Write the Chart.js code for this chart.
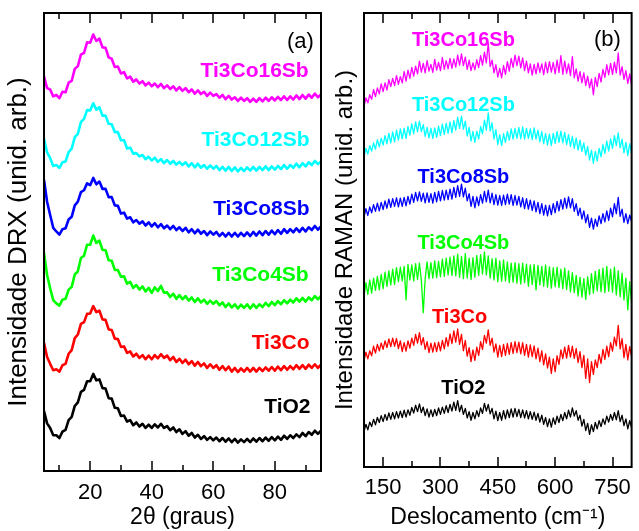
<!DOCTYPE html>
<html>
<head>
<meta charset="utf-8">
<script src="https://cdn.jsdelivr.net/npm/chart.js@4.4.1/dist/chart.umd.min.js"></script>
<style>
  html, body { margin: 0; padding: 0; background: #fff; }
  #wrap { position: relative; width: 639px; height: 531px; overflow: hidden; }
  #xrd { position: absolute; left: 0; top: 0; }
  #raman { position: absolute; left: 322px; top: 0; }
</style>
</head>
<body>
<div id="wrap">
  <canvas id="xrd" width="330" height="531"></canvas>
  <canvas id="raman" width="317" height="531"></canvas>
</div>
<script>
// samples, bottom to top
const sampleNames = ['TiO2', 'Ti3Co', 'Ti3Co4Sb', 'Ti3Co8Sb', 'Ti3Co12Sb', 'Ti3Co16Sb'];
const sampleColors = ['#000000', '#ff0000', '#00ff00', '#0000ff', '#00ffff', '#ff00ff'];

// (a) DRX, 2theta in degrees
const xrdAngle = [
  5, 6, 7, 8, 9, 10, 11, 12, 13, 14,
  15, 16, 17, 18, 19, 20, 21, 22, 23, 24,
  25, 26, 27, 28, 29, 30, 31, 32, 33, 34,
  35, 36, 37, 38, 39, 40, 41, 42, 43, 44,
  45, 46, 47, 48, 49, 50, 51, 52, 53, 54,
  55, 56, 57, 58, 59, 60, 61, 62, 63, 64,
  65, 66, 67, 68, 69, 70, 71, 72, 73, 74,
  75, 76, 77, 78, 79, 80, 81, 82, 83, 84,
  85, 86, 87, 88, 89, 90, 91, 92, 93, 94,
  95
];
const xrdTiO2 = [
  13.1, 10.4, 9.4, 7.8, 7.8, 7.2, 8.6, 9.0, 11.1, 11.8,
  14.2, 15.0, 17.3, 17.7, 19.6, 19.6, 21.2, 19.8, 20.0, 18.1,
  18.0, 15.9, 15.8, 13.8, 13.7, 12.0, 12.1, 10.8, 11.1, 10.0,
  10.6, 9.7, 10.3, 9.4, 10.1, 9.4, 10.2, 9.5, 10.3, 9.4,
  9.8, 8.9, 9.5, 8.5, 9.1, 8.1, 8.7, 7.7, 8.3, 7.3,
  7.9, 7.0, 7.6, 6.8, 7.4, 6.7, 7.3, 6.5, 7.2, 6.4,
  7.1, 6.3, 7.0, 6.2, 6.9, 6.3, 7.0, 6.3, 7.1, 6.4,
  7.2, 6.5, 7.3, 6.6, 7.4, 6.7, 7.5, 6.8, 7.7, 7.0,
  7.8, 7.2, 8.0, 7.4, 8.3, 7.6, 8.5, 7.9, 8.8, 8.1,
  8.8
];
const xrdTi3Co = [
  28.0, 24.9, 23.4, 22.0, 22.2, 21.7, 23.1, 23.4, 25.6, 26.4,
  29.0, 29.8, 32.1, 32.5, 34.3, 34.4, 36.0, 34.7, 35.0, 33.1,
  33.0, 30.9, 30.8, 28.9, 28.8, 27.1, 27.2, 25.8, 26.1, 25.0,
  25.6, 24.7, 25.3, 24.4, 25.2, 24.4, 25.3, 24.6, 25.5, 24.7,
  25.2, 24.2, 24.9, 23.8, 24.5, 23.6, 24.3, 23.3, 24.0, 23.0,
  23.8, 22.9, 23.5, 22.5, 23.3, 22.5, 23.1, 22.1, 22.9, 22.0,
  22.8, 21.7, 22.5, 21.6, 22.4, 21.7, 22.5, 21.7, 22.5, 21.7,
  22.5, 21.8, 22.6, 21.9, 22.7, 21.9, 22.8, 22.0, 22.9, 22.1,
  22.9, 22.2, 23.1, 22.3, 23.1, 22.3, 23.2, 22.5, 23.3, 22.5,
  23.2
];
const xrdTi3Co4Sb = [
  47.6, 42.8, 39.9, 37.3, 36.6, 36.1, 37.4, 37.6, 39.6, 40.2,
  42.9, 43.6, 46.5, 47.0, 49.4, 49.4, 51.4, 49.8, 50.3, 48.3,
  48.2, 46.0, 45.9, 43.9, 43.9, 42.4, 42.5, 40.9, 41.3, 40.0,
  40.6, 39.6, 40.3, 39.2, 40.0, 38.9, 40.1, 39.3, 40.4, 38.9,
  39.0, 38.0, 38.7, 37.6, 38.4, 37.5, 38.2, 37.2, 37.9, 36.9,
  37.7, 36.8, 37.4, 36.5, 37.2, 36.5, 37.1, 36.2, 36.8, 35.8,
  36.6, 35.7, 36.4, 35.5, 36.3, 35.6, 36.4, 35.5, 36.4, 35.6,
  36.4, 35.8, 36.7, 36.0, 36.9, 36.2, 37.1, 36.4, 37.3, 36.6,
  37.4, 36.8, 37.7, 37.0, 37.8, 37.0, 37.9, 37.3, 38.2, 37.5,
  38.2
];
const xrdTi3Co8Sb = [
  63.6, 58.8, 55.9, 53.1, 52.3, 51.6, 52.8, 53.0, 54.9, 55.5,
  58.0, 58.8, 60.9, 61.3, 62.8, 62.4, 64.0, 62.6, 63.2, 61.6,
  61.6, 59.8, 59.8, 58.0, 57.9, 56.2, 56.4, 55.1, 55.4, 54.3,
  54.8, 54.0, 54.5, 53.6, 54.3, 53.4, 54.1, 53.2, 53.9, 53.0,
  53.6, 52.8, 53.5, 52.6, 53.2, 52.4, 53.1, 52.1, 52.8, 51.9,
  52.7, 51.8, 52.4, 51.5, 52.3, 51.6, 52.2, 51.3, 52.0, 51.2,
  52.0, 51.2, 52.0, 51.2, 52.0, 51.3, 52.1, 51.3, 52.2, 51.4,
  52.3, 51.5, 52.4, 51.6, 52.5, 51.7, 52.6, 51.8, 52.8, 52.0,
  52.8, 52.1, 53.0, 52.2, 53.1, 52.3, 53.2, 52.6, 53.5, 52.7,
  53.4
];
const xrdTi3Co12Sb = [
  72.6, 69.6, 68.3, 66.6, 66.8, 66.2, 67.4, 67.6, 69.6, 70.4,
  72.9, 73.6, 76.2, 76.9, 78.8, 78.7, 80.3, 78.9, 79.4, 77.6,
  77.6, 75.8, 75.7, 74.0, 74.0, 72.2, 72.2, 70.4, 70.6, 69.3,
  69.4, 68.7, 69.0, 68.1, 68.6, 67.8, 68.4, 67.5, 68.1, 67.2,
  67.9, 67.1, 67.7, 66.9, 67.5, 66.8, 67.4, 66.5, 67.2, 66.3,
  67.1, 66.2, 66.8, 66.0, 66.7, 66.0, 66.6, 65.7, 66.4, 65.6,
  66.4, 65.5, 66.3, 65.4, 66.2, 65.5, 66.3, 65.6, 66.4, 65.6,
  66.4, 65.7, 66.5, 65.7, 66.5, 65.8, 66.6, 65.9, 66.8, 66.0,
  66.8, 66.2, 67.1, 66.3, 67.2, 66.5, 67.4, 66.8, 67.7, 67.0,
  67.6
];
const xrdTi3Co16Sb = [
  86.2, 83.6, 83.3, 81.8, 82.1, 81.4, 82.8, 82.7, 84.8, 85.2,
  87.8, 88.4, 90.9, 91.3, 93.6, 93.5, 95.3, 93.9, 94.4, 92.5,
  92.4, 90.3, 90.0, 88.2, 88.3, 86.8, 87.1, 85.7, 86.1, 85.0,
  85.5, 84.6, 85.1, 84.2, 84.8, 84.0, 84.6, 83.8, 84.5, 83.6,
  84.2, 83.4, 84.0, 83.1, 83.8, 83.0, 83.6, 82.7, 83.3, 82.4,
  83.1, 82.3, 82.8, 81.9, 82.6, 81.9, 82.3, 81.5, 82.1, 81.2,
  81.9, 81.1, 81.6, 80.8, 81.5, 80.8, 81.4, 80.6, 81.3, 80.6,
  81.4, 80.7, 81.5, 80.8, 81.6, 80.9, 81.7, 81.0, 81.8, 81.0,
  81.8, 81.1, 82.0, 81.2, 82.1, 81.3, 82.2, 81.5, 82.4, 81.6,
  82.2
];

// (b) RAMAN, shift in cm-1
const ramanShift = [
  100, 105, 110, 115, 120, 125, 130, 135, 140, 145,
  150, 155, 160, 165, 170, 175, 180, 185, 190, 195,
  200, 205, 210, 215, 220, 225, 230, 235, 240, 245,
  250, 255, 260, 265, 270, 275, 280, 285, 290, 295,
  300, 305, 310, 315, 320, 325, 330, 335, 340, 345,
  350, 355, 360, 365, 370, 375, 380, 385, 390, 395,
  400, 405, 410, 415, 420, 425, 430, 435, 440, 445,
  450, 455, 460, 465, 470, 475, 480, 485, 490, 495,
  500, 505, 510, 515, 520, 525, 530, 535, 540, 545,
  550, 555, 560, 565, 570, 575, 580, 585, 590, 595,
  600, 605, 610, 615, 620, 625, 630, 635, 640, 645,
  650, 655, 660, 665, 670, 675, 680, 685, 690, 695,
  700, 705, 710, 715, 720, 725, 730, 735, 740, 745,
  750, 755, 760, 765, 770, 775, 780, 785, 790, 795,
  800
];
const ramanTiO2 = [
  7.8, 9.4, 8.2, 9.9, 8.9, 10.5, 9.3, 10.9, 9.8, 11.3,
  10.0, 11.6, 10.3, 11.9, 10.5, 12.0, 10.6, 12.2, 10.8, 12.3,
  10.9, 12.5, 11.0, 12.6, 11.4, 13.1, 11.9, 13.6, 12.2, 13.9,
  12.0, 13.2, 11.3, 12.8, 11.0, 12.6, 11.1, 12.7, 11.3, 13.0,
  11.6, 13.2, 11.8, 13.5, 12.0, 13.8, 12.3, 14.3, 12.5, 14.6,
  12.2, 13.6, 11.6, 12.9, 10.8, 12.2, 10.3, 12.0, 10.6, 12.4,
  11.1, 13.0, 11.8, 14.0, 12.3, 13.8, 11.7, 12.9, 10.6, 12.3,
  10.2, 12.0, 10.3, 12.4, 10.6, 12.6, 10.9, 12.8, 11.0, 12.9,
  11.1, 12.7, 10.9, 12.6, 10.8, 12.4, 10.6, 12.2, 10.5, 12.1,
  10.3, 11.8, 9.9, 11.4, 9.4, 10.9, 8.9, 10.6, 8.8, 10.8,
  9.4, 11.2, 9.8, 11.6, 10.2, 12.0, 10.6, 12.5, 11.0, 13.0,
  11.2, 12.4, 10.3, 11.4, 9.0, 10.5, 8.0, 9.6, 7.2, 9.3,
  7.8, 9.8, 8.4, 10.2, 8.9, 10.6, 9.4, 11.2, 9.9, 11.6,
  10.3, 12.0, 10.4, 12.4, 10.0, 11.4, 9.1, 10.6, 8.4, 10.2,
  8.6
];
const ramanTi3Co = [
  23.4, 25.3, 23.8, 25.6, 24.5, 26.6, 25.1, 27.0, 25.6, 27.3,
  25.9, 27.8, 26.3, 28.2, 26.5, 28.4, 26.6, 28.3, 26.1, 27.8,
  25.4, 27.4, 25.5, 27.8, 26.2, 28.4, 26.8, 29.2, 27.3, 29.6,
  26.9, 28.5, 25.9, 27.6, 25.2, 27.3, 25.3, 27.4, 25.4, 27.5,
  25.6, 27.9, 26.0, 28.5, 26.6, 29.3, 27.2, 30.0, 27.5, 30.4,
  27.0, 29.2, 25.6, 27.9, 24.4, 26.3, 23.2, 25.8, 23.5, 26.4,
  24.6, 27.6, 25.9, 29.0, 27.3, 30.2, 26.8, 28.4, 25.3, 27.1,
  24.2, 26.8, 24.3, 27.0, 24.6, 27.2, 24.8, 27.4, 25.0, 27.6,
  25.2, 27.5, 24.9, 27.4, 24.6, 27.0, 24.2, 26.9, 24.3, 26.7,
  23.8, 26.2, 23.2, 25.6, 22.5, 24.9, 21.8, 24.2, 20.6, 23.8,
  21.0, 24.5, 22.6, 25.8, 23.9, 26.4, 24.0, 26.8, 24.2, 26.6,
  23.9, 26.1, 23.0, 25.4, 21.9, 24.6, 19.5, 23.8, 18.6, 23.2,
  20.4, 23.6, 21.9, 24.8, 22.8, 25.9, 23.7, 26.6, 24.3, 27.4,
  25.5, 28.6, 26.7, 31.2, 26.0, 28.3, 24.1, 27.0, 23.6, 26.5,
  24.2
];
const ramanTi3Co4Sb = [
  37.5, 40.6, 38.0, 41.2, 38.3, 41.6, 38.9, 42.0, 39.0, 42.4,
  39.3, 42.9, 39.8, 43.2, 40.1, 43.6, 40.2, 43.9, 40.8, 44.0,
  41.0, 44.2, 36.8, 44.6, 41.2, 44.5, 41.0, 44.8, 41.3, 44.9,
  41.1, 34.0, 41.4, 45.2, 41.5, 45.0, 41.6, 45.4, 41.7, 45.3,
  41.9, 45.8, 42.0, 46.0, 42.3, 46.2, 42.2, 46.5, 42.1, 46.9,
  41.8, 46.4, 41.5, 47.0, 41.6, 46.0, 41.3, 46.1, 41.8, 46.6,
  42.2, 46.8, 42.5, 47.4, 42.3, 46.5, 41.6, 45.9, 41.2, 46.0,
  40.8, 45.4, 40.9, 45.6, 41.0, 45.2, 40.6, 44.9, 40.7, 45.0,
  40.5, 44.8, 40.3, 44.9, 40.6, 44.7, 39.8, 44.5, 40.2, 44.6,
  39.0, 44.4, 40.1, 44.2, 39.8, 44.5, 39.6, 44.1, 39.4, 43.9,
  39.7, 44.0, 39.5, 43.6, 39.3, 43.8, 39.1, 43.2, 38.6, 42.8,
  38.4, 42.2, 37.7, 41.8, 37.4, 41.5, 36.9, 41.9, 38.0, 42.6,
  38.3, 43.1, 38.8, 43.5, 38.6, 43.8, 38.4, 44.2, 38.7, 43.6,
  38.5, 44.0, 37.9, 43.2, 37.5, 42.7, 36.8, 41.6, 34.6, 40.8,
  36.0
];
const ramanTi3Co8Sb = [
  55.0, 56.9, 55.4, 57.3, 56.0, 57.8, 56.3, 58.1, 56.4, 58.3,
  56.7, 58.6, 57.0, 59.0, 57.2, 59.1, 57.4, 59.3, 57.3, 59.2,
  57.4, 59.4, 57.5, 59.6, 57.9, 60.1, 58.3, 60.5, 58.6, 60.6,
  58.5, 60.3, 58.2, 60.4, 58.3, 60.2, 58.1, 60.5, 58.4, 60.7,
  58.6, 60.9, 58.8, 61.0, 58.9, 61.2, 59.0, 61.6, 59.4, 62.0,
  59.6, 62.3, 59.5, 61.4, 58.6, 60.2, 57.4, 59.6, 57.1, 59.5,
  57.6, 60.0, 58.1, 60.7, 58.4, 61.0, 58.2, 60.3, 57.8, 60.0,
  57.7, 59.8, 57.6, 59.9, 57.8, 60.1, 57.9, 60.0, 57.6, 59.8,
  57.7, 59.6, 57.3, 59.3, 56.9, 59.1, 56.8, 58.8, 56.5, 58.6,
  56.2, 58.3, 55.8, 58.0, 55.5, 57.7, 55.3, 57.6, 55.6, 58.0,
  56.0, 58.5, 56.4, 58.9, 56.8, 59.2, 57.0, 59.5, 57.1, 59.1,
  56.3, 58.0, 55.4, 57.0, 54.6, 56.4, 53.8, 55.6, 52.8, 54.8,
  52.4, 54.6, 53.0, 55.3, 53.6, 55.8, 54.0, 56.4, 54.3, 57.0,
  55.1, 58.0, 55.8, 59.4, 55.2, 56.8, 53.9, 55.8, 53.6, 55.5,
  54.0
];
const ramanTi3Co12Sb = [
  68.3, 70.2, 68.9, 70.8, 69.6, 71.4, 70.0, 72.1, 70.5, 72.4,
  70.9, 73.0, 71.2, 73.5, 71.4, 73.8, 71.6, 74.2, 72.0, 74.5,
  72.3, 74.6, 72.4, 75.0, 73.1, 75.6, 73.4, 76.0, 73.8, 76.2,
  73.9, 75.4, 72.8, 74.8, 72.5, 74.6, 72.4, 74.7, 72.6, 75.1,
  73.0, 75.5, 73.2, 75.7, 73.5, 76.0, 73.6, 76.3, 74.2, 77.0,
  74.6, 77.3, 74.4, 76.2, 72.9, 74.8, 71.8, 73.9, 71.5, 74.0,
  72.2, 75.0, 73.4, 76.4, 74.2, 78.0, 74.0, 75.8, 72.2, 74.3,
  71.0, 73.2, 70.8, 73.4, 71.5, 73.9, 72.0, 74.5, 72.2, 74.6,
  72.4, 74.8, 72.3, 74.9, 72.2, 74.6, 72.4, 74.5, 72.1, 74.7,
  72.2, 74.2, 71.6, 73.9, 71.2, 73.5, 70.9, 73.3, 70.8, 73.5,
  71.3, 73.9, 71.5, 74.0, 71.4, 73.7, 71.0, 73.2, 70.6, 72.8,
  70.2, 72.5, 69.8, 72.0, 69.5, 71.4, 68.7, 70.6, 67.6, 69.8,
  66.9, 69.5, 67.4, 70.2, 68.3, 71.0, 69.1, 71.8, 69.6, 72.3,
  70.2, 73.0, 70.8, 73.6, 70.3, 72.2, 69.2, 71.5, 68.6, 71.2,
  69.0
];
const ramanTi3Co16Sb = [
  79.4, 81.3, 80.2, 82.0, 81.0, 83.1, 81.6, 83.5, 82.2, 84.4,
  82.7, 84.6, 83.0, 85.3, 83.8, 85.6, 84.0, 86.2, 84.3, 86.0,
  84.6, 87.1, 85.0, 87.4, 85.6, 88.0, 86.1, 88.3, 86.6, 89.4,
  87.0, 88.9, 86.8, 89.5, 87.2, 88.7, 86.9, 89.8, 87.4, 89.1,
  87.3, 90.2, 87.6, 89.5, 87.7, 90.0, 87.8, 89.9, 88.1, 90.7,
  88.5, 91.0, 88.4, 90.3, 87.6, 89.6, 87.3, 89.0, 87.5, 89.7,
  88.0, 90.6, 88.5, 91.4, 89.0, 93.4, 88.2, 89.6, 86.8, 88.6,
  85.9, 87.8, 85.7, 88.4, 86.5, 89.3, 87.2, 90.0, 88.0, 90.7,
  88.4, 90.5, 87.9, 90.1, 87.3, 89.4, 86.8, 88.8, 86.3, 88.7,
  86.6, 89.0, 86.9, 88.8, 86.4, 89.2, 86.8, 89.3, 87.0, 89.1,
  86.6, 89.6, 86.9, 90.6, 86.5, 89.4, 86.7, 88.8, 86.2, 90.4,
  85.7, 87.7, 85.0, 87.1, 84.6, 86.8, 84.0, 86.1, 83.5, 85.5,
  82.0, 85.8, 83.8, 86.7, 84.8, 87.6, 85.8, 88.6, 86.4, 88.9,
  86.5, 89.2, 86.8, 91.2, 86.3, 88.2, 85.4, 87.3, 84.5, 86.6,
  84.0
];

const xrdSeries = [xrdTiO2, xrdTi3Co, xrdTi3Co4Sb, xrdTi3Co8Sb, xrdTi3Co12Sb, xrdTi3Co16Sb];
const ramanSeries = [ramanTiO2, ramanTi3Co, ramanTi3Co4Sb, ramanTi3Co8Sb, ramanTi3Co12Sb, ramanTi3Co16Sb];

const xrdMajor = [20, 40, 60, 80];
const xrdMinor = [10, 30, 50, 70, 90];
const ramanMajor = [150, 300, 450, 600, 750];
const ramanMinor = [225, 375, 525, 675];

const FONT = "'Liberation Sans', Arial, sans-serif";

// frame, inward ticks and the text labels inside the plot
const framePlugin = {
  id: 'frame',
  afterDatasetsDraw(chart, args, opts) {
    const { ctx, chartArea: a, scales: { x, y } } = chart;
    ctx.save();
    ctx.strokeStyle = '#000';
    ctx.lineWidth = 2;
    ctx.strokeRect(a.left, a.top, a.right - a.left, a.bottom - a.top);
    ctx.lineWidth = 1.5;
    const tick = (v, len) => {
      const px = Math.round(x.getPixelForValue(v));
      ctx.beginPath();
      ctx.moveTo(px, a.bottom);
      ctx.lineTo(px, a.bottom - len);
      ctx.moveTo(px, a.top);
      ctx.lineTo(px, a.top + len);
      ctx.stroke();
    };
    opts.major.forEach(v => tick(v, 10));
    opts.minor.forEach(v => tick(v, 6));

    ctx.textBaseline = 'middle';
    ctx.textAlign = opts.align;
    ctx.font = 'bold ' + opts.labelSize + 'px ' + FONT;
    opts.labels.forEach((lab, i) => {
      ctx.fillStyle = sampleColors[i];
      ctx.fillText(sampleNames[i], x.getPixelForValue(lab[0]), y.getPixelForValue(lab[1]));
    });
    ctx.textAlign = 'center';
    ctx.fillStyle = '#000';
    ctx.font = '22px ' + FONT;
    ctx.fillText(opts.panel[0], x.getPixelForValue(opts.panel[1]), y.getPixelForValue(opts.panel[2]));
    ctx.restore();
  }
};

function makePanel(canvasId, xVals, series, cfg) {
  return new Chart(document.getElementById(canvasId), {
    type: 'line',
    data: {
      datasets: series.map((vals, i) => ({
        label: sampleNames[i],
        data: vals.map((v, j) => ({ x: xVals[j], y: v })),
        borderColor: sampleColors[i],
        borderWidth: cfg.lineWidth,
        borderJoinStyle: 'round',
        pointRadius: 0,
        tension: 0
      }))
    },
    options: {
      responsive: false,
      animation: false,
      events: [],
      layout: { padding: cfg.padding },
      plugins: {
        legend: { display: false },
        tooltip: { enabled: false },
        frame: cfg.frame
      },
      scales: {
        x: {
          type: 'linear',
          min: cfg.xMin,
          max: cfg.xMax,
          afterBuildTicks: s => { s.ticks = cfg.frame.major.map(v => ({ value: v })); },
          afterFit: s => { s.height = cfg.xHeight; },
          grid: { display: false, drawTicks: false },
          border: { display: false },
          ticks: { color: '#000', font: { family: FONT, size: 22 }, padding: cfg.tickPad, maxRotation: 0 },
          title: { display: true, text: cfg.xTitle, color: '#000', font: { family: FONT, size: 23 }, padding: 0 }
        },
        y: {
          min: 0,
          max: 100,
          afterFit: s => { s.width = cfg.yWidth; },
          grid: { display: false, drawTicks: false },
          border: { display: false },
          ticks: { display: false },
          title: { display: true, text: cfg.yTitle, color: '#000', font: { family: FONT, size: cfg.yTitleSize }, padding: { top: cfg.yTitlePad, bottom: 0 } }
        }
      }
    },
    plugins: [framePlugin]
  });
}

makePanel('xrd', xrdAngle, xrdSeries, {
  xMin: 5, xMax: 95,
  lineWidth: 2.6,
  padding: { top: 13, right: 9, left: 0, bottom: 0 },
  xHeight: 60, yWidth: 44, tickPad: 9,
  yTitleSize: 26, yTitlePad: 3,
  xTitle: '2\u03b8 (graus)',
  yTitle: 'Intensidade DRX (unid. arb.)',
  frame: {
    major: xrdMajor, minor: xrdMinor, align: 'right', labelSize: 21,
    labels: [[91.6, 14.0], [91.3, 27.9], [91.0, 42.8], [91.3, 57.2], [91.3, 72.3], [91.0, 87.3]],
    panel: ['(a)', 88.3, 93.7]
  }
});

makePanel('raman', ramanShift, ramanSeries, {
  xMin: 100, xMax: 800,
  lineWidth: 1.3,
  padding: { top: 13, right: 2, left: 0, bottom: 0 },
  xHeight: 64, yWidth: 42, tickPad: 8,
  yTitleSize: 24, yTitlePad: 9,
  xTitle: 'Deslocamento (cm\u207b\u00b9)',
  yTitle: 'Intensidade RAMAN (unid. arb.)',
  frame: {
    major: ramanMajor, minor: ramanMinor, align: 'center', labelSize: 20,
    labels: [[360, 17.3], [350, 33.0], [360, 49.3], [360, 63.8], [360, 79.7], [360, 94.0]],
    panel: ['(b)', 736.6, 94.0]
  }
});
</script>
</body>
</html>
